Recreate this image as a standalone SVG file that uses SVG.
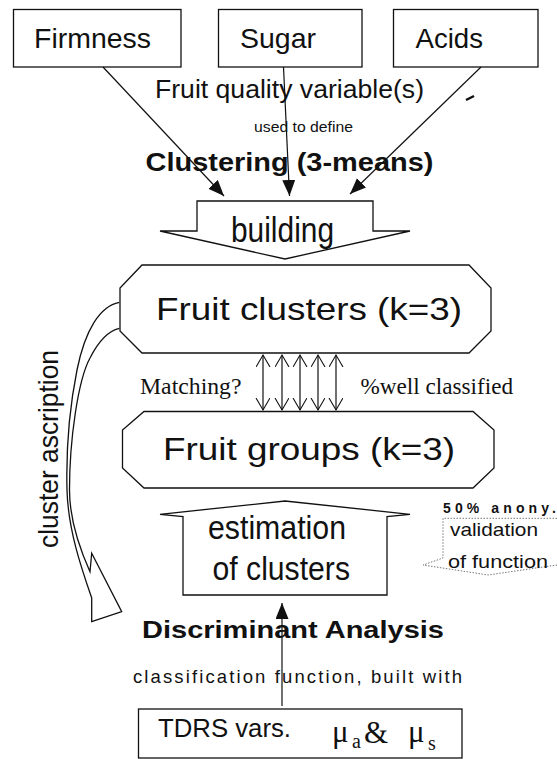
<svg xmlns="http://www.w3.org/2000/svg" width="557" height="759" viewBox="0 0 557 759">
<style>
.box{fill:#fff;stroke:#111;stroke-width:1.3}
.t{font-family:"Liberation Sans",Arial,sans-serif;fill:#111}
.b{font-weight:bold}
.s{font-family:"Liberation Serif","Times New Roman",serif;fill:#111}
.ln{stroke:#111;stroke-width:1.2;fill:none}
.dot{stroke:#777;stroke-width:1;stroke-dasharray:1.5 1.5;fill:none}
</style>
<defs>
<marker id="fa" markerUnits="userSpaceOnUse" markerWidth="18" markerHeight="14" refX="16" refY="6.5" orient="auto">
<path d="M0,0 L16,6.5 L0,13 z" fill="#111"/>
</marker>
<marker id="oa" markerUnits="userSpaceOnUse" markerWidth="14" markerHeight="16" refX="12" refY="7" orient="auto-start-reverse">
<path d="M0,0 L12,7 L0,14" fill="none" stroke="#111" stroke-width="1.1"/>
</marker>
</defs>
<rect width="557" height="759" fill="#fff"/>

<g id="firmness">
<rect class="box" x="13.5" y="9.5" width="167.5" height="57.5"/>
<text class="t" x="34" y="48" font-size="28.5" textLength="117" lengthAdjust="spacingAndGlyphs">Firmness</text>
</g>
<g id="sugar">
<rect class="box" x="218.5" y="9.5" width="143.5" height="57.5"/>
<text class="t" x="240" y="48" font-size="28.5" textLength="76" lengthAdjust="spacingAndGlyphs">Sugar</text>
</g>
<g id="acids">
<rect class="box" x="393.5" y="9.5" width="144.5" height="57.5"/>
<text class="t" x="415.5" y="48" font-size="28.5" textLength="67.5" lengthAdjust="spacingAndGlyphs">Acids</text>
</g>

<g id="labels-top">
<text class="t" x="155" y="98" font-size="26" fill="#222" textLength="269" lengthAdjust="spacingAndGlyphs">Fruit quality variable(s)</text>
<path d="M466,100 L474,96" stroke="#111" stroke-width="2.5"/>
<text class="t" x="254" y="132" font-size="14.5" textLength="99" lengthAdjust="spacingAndGlyphs">used to define</text>
<text class="t b" x="145.5" y="171" font-size="26" textLength="288" lengthAdjust="spacingAndGlyphs">Clustering (3-means)</text>
</g>

<g id="building">
<polygon class="box" points="197,201 373,201 373,231 410,231 285,259 160,231 197,231"/>
<text class="t" x="231" y="242" font-size="35" textLength="103" lengthAdjust="spacingAndGlyphs">building</text>
</g>

<g id="ascription">
<path class="box" stroke-width="1.2" d="M119.3,302.3 C100,306 85,330 77,370 C70,405 66,450 67,490 C68,530 82,570 91.7,598 L91.7,621.7 L121.7,611.7 L91.7,553.3 L90,571.7 C78,545 69.5,515 69.5,490 C69.5,440 78,380 90,358 C98,342 108,331 119.3,328.3"/>
<text class="t" transform="translate(58,548) rotate(-90)" font-size="28" textLength="198" lengthAdjust="spacingAndGlyphs">cluster ascription</text>
</g>

<g id="fruit-clusters">
<polygon class="box" points="142,265 469,265 491,288 491,331 469,353 142,353 120,331 120,288"/>
<text class="t" x="156" y="320" font-size="32" textLength="306" lengthAdjust="spacingAndGlyphs">Fruit clusters (k=3)</text>
</g>

<g id="matching-labels">
<text class="s" x="140" y="394" font-size="23.5" textLength="101.5" lengthAdjust="spacingAndGlyphs">Matching?</text>
<text class="s" x="360.5" y="394" font-size="23.5" textLength="152.5" lengthAdjust="spacingAndGlyphs">%well classified</text>
</g>

<g id="fruit-groups">
<polygon class="box" points="144,411.5 473,411.5 494,430 494,468 473,488 144,488 122.5,468 122.5,430"/>
<text class="t" x="163" y="460" font-size="32" textLength="292" lengthAdjust="spacingAndGlyphs">Fruit groups (k=3)</text>
</g>

<g id="estimation">
<polygon class="box" points="285,501 410,514.3 387,516.7 387,595 183,595 183,516.7 160,514.3"/>
<text class="t" x="208" y="539" font-size="33" textLength="138" lengthAdjust="spacingAndGlyphs">estimation</text>
<text class="t" x="212.5" y="580" font-size="33" textLength="137.5" lengthAdjust="spacingAndGlyphs">of clusters</text>
</g>

<g id="validation">
<path class="dot" d="M557,518.3 L443,518.3 L443,558 L423,565 L488,575 L557,565"/>
<text class="t b" x="443" y="512.5" font-size="14" textLength="113" lengthAdjust="spacing">50% anony.</text>
<text class="t" x="450" y="535.5" font-size="19" textLength="88" lengthAdjust="spacingAndGlyphs">validation</text>
<text class="t" x="448" y="567.5" font-size="19" textLength="100" lengthAdjust="spacingAndGlyphs">of function</text>
</g>

<g id="discriminant">
<text class="t b" x="142" y="638" font-size="24.5" textLength="302" lengthAdjust="spacingAndGlyphs">Discriminant Analysis</text>
<text class="t" x="133" y="683" font-size="18.5" textLength="329" lengthAdjust="spacing">classification function, built with</text>
</g>

<g id="tdrs">
<rect class="box" x="138.5" y="709" width="323.5" height="49"/>
<text class="t" x="158" y="737" font-size="25.5" textLength="133" lengthAdjust="spacingAndGlyphs">TDRS vars.</text>
<text class="s" font-size="31"><tspan x="332" y="742">μ</tspan><tspan x="352" y="748" font-size="20">a</tspan><tspan x="364" y="743">&amp;</tspan><tspan x="408" y="742">μ</tspan><tspan x="428" y="750" font-size="20">s</tspan></text>
</g>

<g id="connectors">
<line class="ln" x1="103" y1="67" x2="224" y2="196" marker-end="url(#fa)"/>
<line class="ln" x1="283.5" y1="67" x2="289.5" y2="196" marker-end="url(#fa)"/>
<line class="ln" x1="481" y1="67" x2="350" y2="194" marker-end="url(#fa)"/>
<line class="ln" x1="263" y1="355" x2="263" y2="410" marker-start="url(#oa)" marker-end="url(#oa)"/>
<line class="ln" x1="282" y1="355" x2="282" y2="410" marker-start="url(#oa)" marker-end="url(#oa)"/>
<line class="ln" x1="300" y1="355" x2="300" y2="410" marker-start="url(#oa)" marker-end="url(#oa)"/>
<line class="ln" x1="318" y1="355" x2="318" y2="410" marker-start="url(#oa)" marker-end="url(#oa)"/>
<line class="ln" x1="336" y1="355" x2="336" y2="410" marker-start="url(#oa)" marker-end="url(#oa)"/>
<line class="ln" x1="282" y1="706" x2="282" y2="603" marker-end="url(#fa)"/>
</g>
</svg>
